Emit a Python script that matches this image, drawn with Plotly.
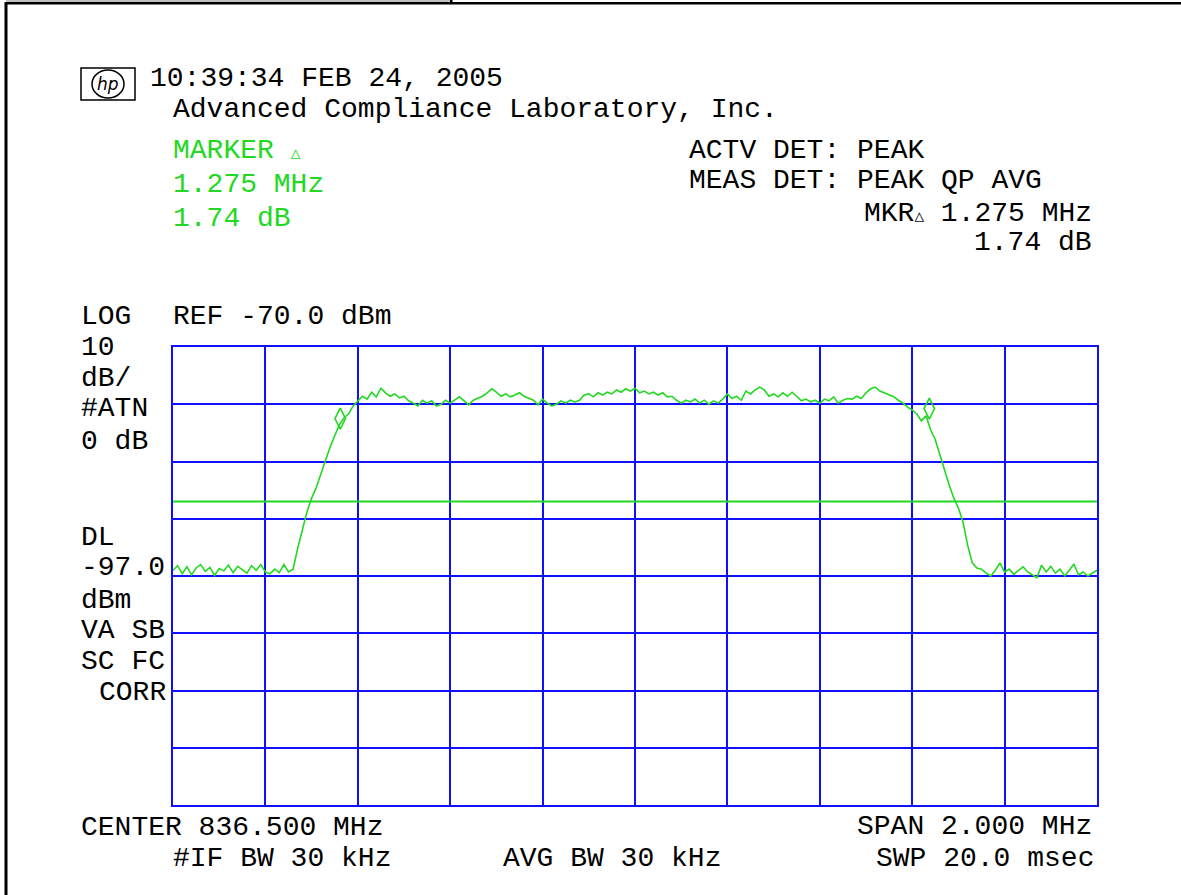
import plotly.graph_objects as go

# ---------------- data ----------------
center_mhz = 836.5
span_mhz = 2.0
ref_dbm = -70.0
db_per_div = 10.0
display_line_dbm = -97.0
step_mhz = 0.01

trace_dbm = [
    -109.0, -108.2, -109.6, -108.4, -109.8, -108.6, -108.0, -109.2, -108.5, -109.9,
    -108.7, -109.1, -108.1, -109.4, -108.3, -108.9, -109.5, -108.2, -109.0, -108.0,
    -109.3, -109.6, -108.8, -109.4, -108.0, -109.3, -108.8, -105.1, -102.0, -98.8,
    -96.4, -94.6, -92.2, -89.7, -87.5, -85.5, -83.6, -82.4, -81.7, -80.3,
    -79.4, -78.6, -79.1, -77.9, -78.7, -77.2, -78.0, -78.6, -78.2, -78.9,
    -78.6, -79.4, -79.8, -80.3, -79.3, -79.8, -79.4, -80.3, -80.0, -79.3,
    -79.8, -79.3, -78.7, -79.4, -80.1, -79.3, -79.0, -78.6, -78.0, -77.3,
    -77.9, -78.6, -78.2, -78.7, -78.4, -78.0, -78.6, -79.0, -79.3, -80.1,
    -79.1, -79.8, -80.3, -80.0, -79.4, -79.8, -79.3, -79.6, -79.3, -78.4,
    -78.2, -78.7, -78.0, -78.4, -77.9, -78.2, -77.5, -77.9, -77.3, -77.7,
    -77.2, -78.0, -77.7, -78.2, -77.9, -78.4, -78.0, -78.7, -78.6, -79.3,
    -79.8, -79.3, -79.6, -79.1, -79.8, -79.3, -80.0, -79.4, -79.8, -79.1,
    -78.2, -79.0, -78.6, -79.3, -77.7, -78.2, -77.5, -77.0, -77.5, -78.6,
    -78.2, -78.7, -78.0, -78.6, -77.9, -78.6, -79.4, -79.1, -79.6, -79.3,
    -79.8, -79.1, -79.4, -78.7, -79.8, -79.3, -79.0, -79.1, -78.6, -79.0,
    -78.0, -77.3, -77.0, -77.7, -78.0, -78.4, -78.7, -79.3, -79.8, -80.5,
    -81.0, -81.7, -82.9, -82.0, -84.5, -86.2, -88.9, -91.5, -94.1, -96.4,
    -98.1, -100.6, -104.6, -107.7, -108.6, -108.8, -109.5, -110.0, -109.0, -107.7,
    -109.3, -108.8, -109.7, -109.0, -108.4, -109.3, -109.8, -110.3, -108.1, -109.3,
    -108.3, -109.5, -108.8, -110.0, -109.0, -107.9, -109.8, -109.3, -110.0, -109.5,
    -109.0,
]

marker_mhz = [835.862, 837.137]
marker_dbm = [-82.5, -80.76]

start_mhz = center_mhz - span_mhz / 2
stop_mhz = center_mhz + span_mhz / 2
freqs = [start_mhz + step_mhz * i for i in range(len(trace_dbm))]

# ---------------- style ----------------
W, H = 1181, 895
PL, PR, PT, PB = 173, 1097, 347, 805
GREEN = "#22d822"
BLUE = "#1010ff"
FONT = "Liberation Mono, DejaVu Sans Mono, monospace"
FS = 28


def px(xp):
    return (xp - PL) / (PR - PL)


def py(yp):
    return (PB - yp) / (PB - PT)


fig = go.Figure()

fig.add_trace(go.Scatter(
    x=[start_mhz, stop_mhz], y=[display_line_dbm, display_line_dbm],
    mode="lines", line=dict(color=GREEN, width=2), hoverinfo="skip"))

fig.add_trace(go.Scatter(
    x=freqs, y=trace_dbm, mode="lines",
    line=dict(color=GREEN, width=1.6), hoverinfo="skip"))

fig.add_trace(go.Scatter(
    x=marker_mhz, y=marker_dbm, mode="markers",
    marker=dict(symbol="diamond-tall-open", size=15, color=GREEN,
                line=dict(color=GREEN, width=1.6)),
    hoverinfo="skip"))

annotations = []


def txt(s, xp, yp, color="black", anchor="left", size=FS):
    annotations.append(dict(
        text=s, x=px(xp), y=py(yp), xref="paper", yref="paper",
        xanchor=anchor, yanchor="middle", showarrow=False,
        font=dict(family=FONT, size=size, color=color)))


txt("10:39:34 FEB 24, 2005", 148, 78)
txt("Advanced Compliance Laboratory, Inc.", 171, 109)
txt("MARKER <span style='font-size:16px'>△</span>", 171, 151, GREEN)
txt("1.275 MHz", 171, 184, GREEN)
txt("1.74 dB", 171, 218, GREEN)
txt("ACTV DET: PEAK", 687, 151)
txt("MEAS DET: PEAK QP AVG", 687, 181)
txt("MKR<span style='font-size:16px'>△</span> 1.275 MHz", 1094, 213, anchor="right")
txt("1.74 dB", 1094, 243, anchor="right")
txt("LOG", 79, 316)
txt("REF -70.0 dBm", 171, 316)
txt("10", 79, 347)
txt("dB/", 79, 378)
txt("#ATN", 79, 408)
txt("0 dB", 79, 441)
txt("DL", 79, 537)
txt("-97.0", 79, 567)
txt("dBm", 79, 600)
txt("VA SB", 79, 630)
txt("SC FC", 79, 661)
txt("CORR", 97, 692)
txt("CENTER 836.500 MHz", 79, 827)
txt("SPAN 2.000 MHz", 1094, 826, anchor="right")
txt("#IF BW 30 kHz", 171, 858)
txt("AVG BW 30 kHz", 501, 858)
txt("SWP 20.0 msec", 1096, 858, anchor="right")
# hp logo text
annotations.append(dict(
    text="<i>hp</i>", x=px(108), y=py(84), xref="paper", yref="paper",
    xanchor="center", yanchor="middle", showarrow=False,
    font=dict(family="DejaVu Sans", size=17, color="black")))

shapes = [
    # top gray bar and frame
    dict(type="rect", xref="paper", yref="paper", x0=px(6), x1=px(451), y0=py(0), y1=py(2),
         fillcolor="#c0c0c0", line=dict(width=0), layer="above"),
    dict(type="rect", xref="paper", yref="paper", x0=px(5), x1=px(1181), y0=py(2), y1=py(4.5),
         fillcolor="black", line=dict(width=0), layer="above"),
    dict(type="rect", xref="paper", yref="paper", x0=px(450), x1=px(452.5), y0=py(0), y1=py(4),
         fillcolor="black", line=dict(width=0), layer="above"),
    dict(type="rect", xref="paper", yref="paper", x0=px(4.5), x1=px(7.5), y0=py(2), y1=py(895),
         fillcolor="black", line=dict(width=0), layer="above"),
    # hp logo
    dict(type="rect", xref="paper", yref="paper", x0=px(81), x1=px(135), y0=py(68), y1=py(100),
         line=dict(color="black", width=1.5)),
    dict(type="circle", xref="paper", yref="paper", x0=px(92), x1=px(124), y0=py(70), y1=py(98),
         line=dict(color="black", width=1.5)),
]

fig.update_layout(
    width=W, height=H,
    margin=dict(l=PL, r=W - PR, t=PT, b=H - PB),
    paper_bgcolor="white", plot_bgcolor="white",
    showlegend=False,
    annotations=annotations,
    shapes=shapes,
    xaxis=dict(range=[start_mhz, stop_mhz], dtick=span_mhz / 10, tick0=start_mhz,
               showgrid=True, gridcolor=BLUE, gridwidth=2,
               showline=True, linecolor=BLUE, linewidth=2, mirror=True,
               showticklabels=False, ticks="", zeroline=False, fixedrange=True),
    yaxis=dict(range=[ref_dbm - 8 * db_per_div, ref_dbm], dtick=db_per_div, tick0=ref_dbm,
               showgrid=True, gridcolor=BLUE, gridwidth=2,
               showline=True, linecolor=BLUE, linewidth=2, mirror=True,
               showticklabels=False, ticks="", zeroline=False, fixedrange=True),
)

fig.write_html("out.html")
